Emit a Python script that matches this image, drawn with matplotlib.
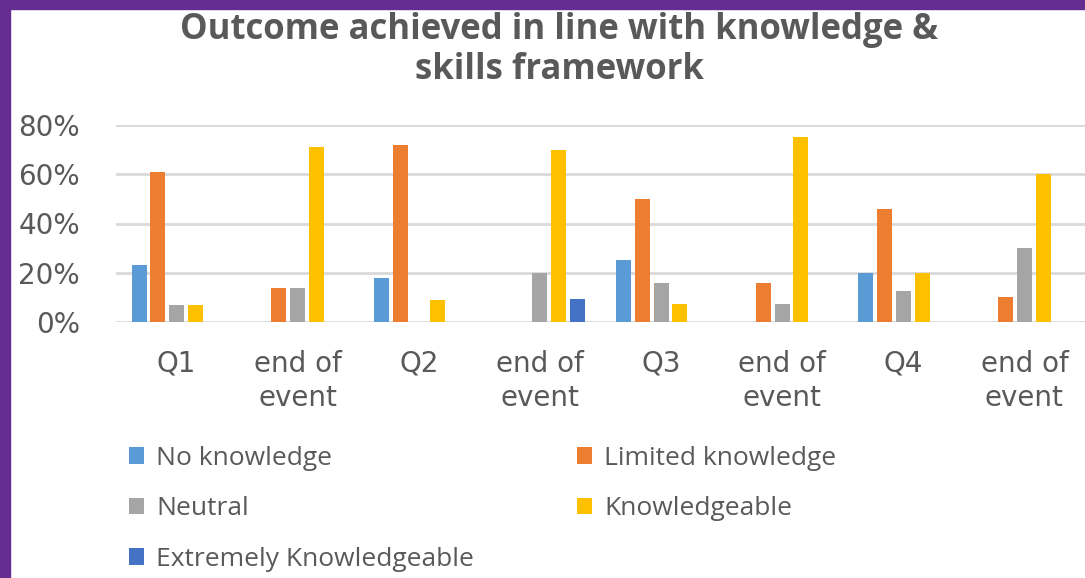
import matplotlib
matplotlib.use("Agg")
import matplotlib.pyplot as plt
import numpy as np
from matplotlib.ticker import FuncFormatter

categories = ["Q1", "end of\nevent", "Q2", "end of\nevent", "Q3", "end of\nevent", "Q4", "end of\nevent"]
series_names = ["No knowledge", "Limited knowledge", "Neutral", "Knowledgeable", "Extremely Knowledgeable"]
no_knowledge = [23, 0, 18, 0, 25, 0, 20, 0]
limited_knowledge = [61, 14, 72, 0, 50, 16, 46, 10]
neutral = [7, 14, 0, 20, 16, 7.5, 12.5, 30]
knowledgeable = [7, 71, 9, 70, 7.5, 75, 20, 60]
extremely_knowledgeable = [0, 0, 0, 9.5, 0, 0, 0, 0]
colors = ["#5B9BD5", "#ED7D31", "#A5A5A5", "#FFC000", "#4472C4"]
yticks = [0, 20, 40, 60, 80]

W, H = 1085, 578
fig = plt.figure(figsize=(W / 100, H / 100), dpi=100)
fig.patch.set_facecolor("white")

def px(x0, y0, x1, y1):
    return [x0 / W, 1 - y1 / H, (x1 - x0) / W, (y1 - y0) / H]

ax = fig.add_axes(px(116, 125, 1085, 322))
series = [no_knowledge, limited_knowledge, neutral, knowledgeable, extremely_knowledgeable]
x = np.arange(len(categories))
slot = 0.1546
bw = 0.124
handles = []
for i, (vals, c, name) in enumerate(zip(series, colors, series_names)):
    v = np.array(vals, dtype=float) / 100.0
    b = ax.bar(x + (i - 2) * slot, v, width=bw, color=c, linewidth=0, label=name, zorder=3)
    handles.append(b)

ax.set_xlim(-0.5, len(categories) - 0.5)
ax.set_ylim(0, 0.8)
ax.set_yticks([t / 100 for t in yticks])
ax.yaxis.set_major_formatter(FuncFormatter(lambda v, p: f"{v*100:.0f}%"))
ax.grid(axis="y", color="#D9D9D9", linewidth=2.0, zorder=0)
ax.set_axisbelow(True)
for s in ax.spines.values():
    s.set_visible(False)
ax.tick_params(axis="both", length=0)
ax.tick_params(axis="y", pad=26, labelsize=20, labelcolor="#595959")
ax.tick_params(axis="x", pad=20, labelsize=20, labelcolor="#595959")
ax.set_xticks(x)
ax.set_xticklabels(categories, linespacing=1.3)

fig.text(559 / W, 1 - 50 / H, "Outcome achieved in line with knowledge &\nskills framework",
         ha="center", va="center", fontsize=25, fontweight="bold", color="#595959",
         family="Open Sans", linespacing=1.15)

order = [0, 2, 4, 1, 3]
leg = fig.legend([handles[i] for i in order], [series_names[i] for i in order],
                 ncol=2, loc="upper left", bbox_to_anchor=(129 / W, 1 - 446 / H),
                 frameon=False, prop={"family": "Open Sans", "size": 19},
                 handlelength=0.58, handleheight=0.58, handletextpad=0.45,
                 labelspacing=0.96, columnspacing=3.9, borderaxespad=0, borderpad=0)
for t in leg.get_texts():
    t.set_color("#595959")

# purple frame (left and top)
fig.patches.append(plt.Rectangle((0, 0), 10 / W, 1, transform=fig.transFigure, color="#662D91", zorder=10))
fig.patches.append(plt.Rectangle((0, 1 - 8.5 / H), 1, 8.5 / H, transform=fig.transFigure, color="#662D91", zorder=10))

fig.savefig("out.png", dpi=100, facecolor="white")
